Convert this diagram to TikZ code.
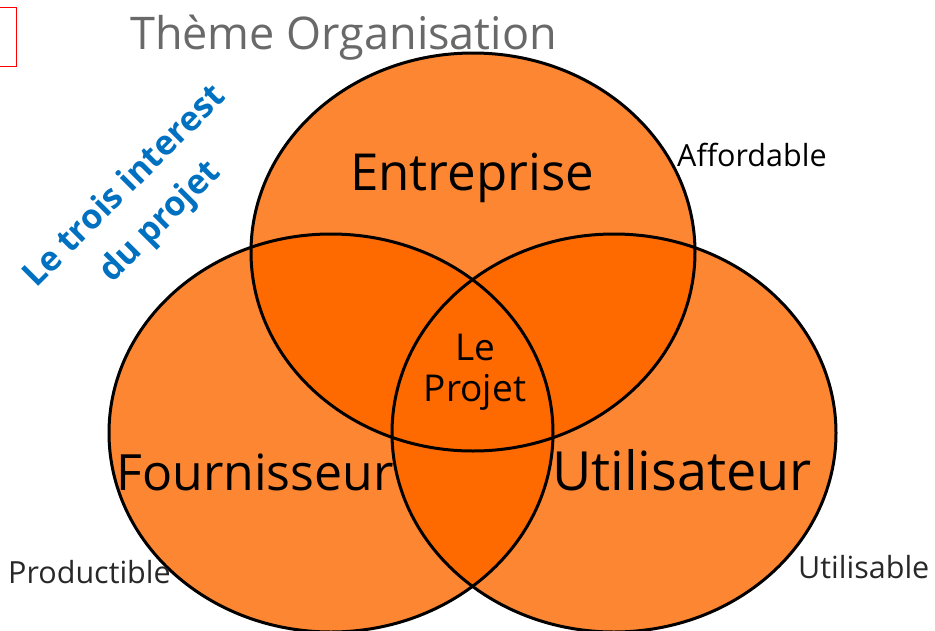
\documentclass[tikz,border=0pt]{standalone}
\usepackage{fontspec}
\setmainfont{Open Sans}
\definecolor{vennlight}{RGB}{253,134,50}
\definecolor{venndark}{RGB}{255,106,0}
\definecolor{titlegray}{RGB}{105,105,105}
\definecolor{themeblue}{RGB}{0,112,192}
\definecolor{notegray}{RGB}{40,40,40}

\begin{document}
\begin{tikzpicture}[x=1pt, y=-1pt,
  set/.style={draw=black, line width=3pt},
  setlabel/.style={font=\fontsize{51}{58}\selectfont, inner sep=0},
  note/.style={font=\fontsize{30.5}{34}\selectfont, text=notegray, inner sep=0}]
  \useasboundingbox (0,0) rectangle (935,630);
  \def\rx{222pt}
  \def\ry{199pt}

  % Centres of the three sets
  \coordinate (E) at (473,252);
  \coordinate (F) at (331,433);
  \coordinate (U) at (614,433);

  % Base fills
  \foreach \c in {E,F,U}
    \fill[vennlight] (\c) ellipse [x radius=\rx, y radius=\ry];

  % Overlaps
  \begin{scope}
    \clip (E) ellipse [x radius=\rx, y radius=\ry];
    \fill[venndark] (F) ellipse [x radius=\rx, y radius=\ry];
    \fill[venndark] (U) ellipse [x radius=\rx, y radius=\ry];
  \end{scope}
  \begin{scope}
    \clip (F) ellipse [x radius=\rx, y radius=\ry];
    \fill[venndark] (U) ellipse [x radius=\rx, y radius=\ry];
  \end{scope}

  % Outlines
  \foreach \c in {E,F,U}
    \draw[set] (\c) ellipse [x radius=\rx, y radius=\ry];

  % Set labels
  \node[setlabel, anchor=base] (entreprise) at (472,190) {Entreprise};
  \node[setlabel, anchor=base, font=\fontsize{50}{58}\selectfont] (fournisseur) at (255,490) {Fournisseur};
  \node[setlabel, anchor=base, font=\fontsize{54}{60}\selectfont] (utilisateur) at (682,490) {Utilisateur};
  \node[inner sep=0, align=center, font=\fontsize{37}{41}\selectfont] (projet) at (475,372) {Le\\Projet};

  % Title and side notes
  \draw[red, line width=0.8pt] (-5,7) rectangle (16,66);
  \node[anchor=base west, inner sep=0, text=titlegray, font=\fontsize{45}{50}\selectfont] (title) at (130,49) {Thème Organisation};
  \node[rotate=45, align=center, inner sep=0, text=themeblue, font=\bfseries\fontsize{34}{50}\selectfont] (interest) at (143,205) {Le trois interest\\du projet};
  \node[note, text=black, anchor=west] (affordable) at (677,155) {Affordable};
  \node[note, anchor=base west] (productible) at (8,583) {Productible};
  \node[note, anchor=base west] (utilisable) at (798,578) {Utilisable};
\end{tikzpicture}
\end{document}
